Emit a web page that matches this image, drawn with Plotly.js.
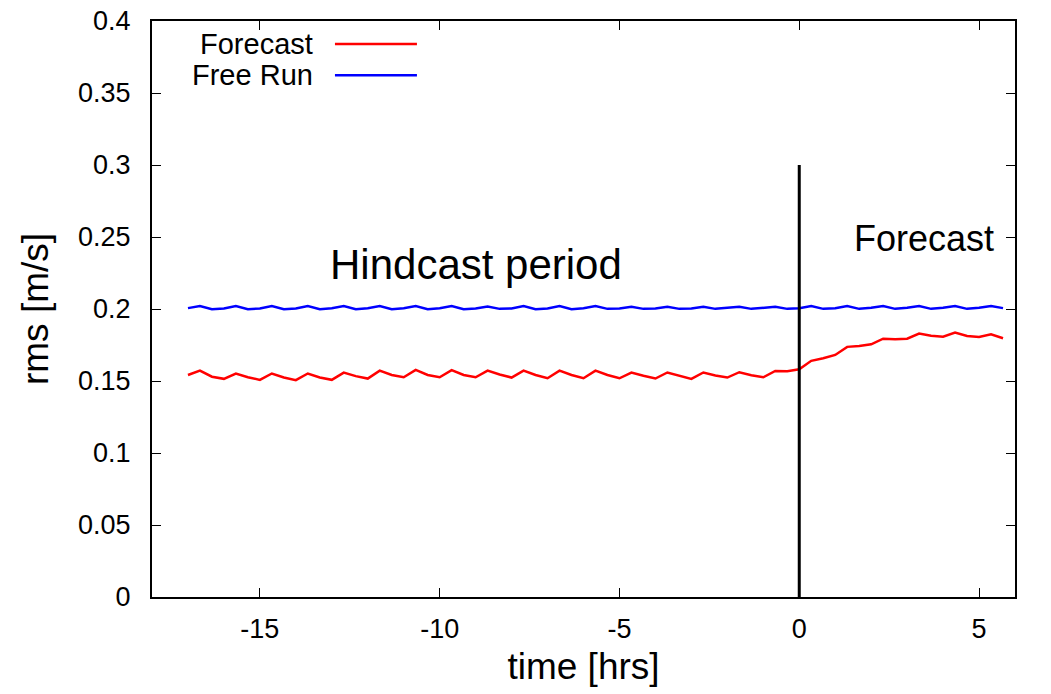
<!DOCTYPE html>
<html>
<head>
<meta charset="utf-8">
<script src="https://cdn.plot.ly/plotly-3.0.1.min.js"></script>
<style>html,body{margin:0;padding:0;background:#fff;}#chart{width:1051px;height:694px;}</style>
</head>
<body>
<div id="chart"></div>
<script>
// time [hrs], one value every 20 minutes
const timeHrs = [
  -17.000, -16.667, -16.333, -16.000, -15.667, -15.333, -15.000, -14.667, -14.333, -14.000,
  -13.667, -13.333, -13.000, -12.667, -12.333, -12.000, -11.667, -11.333, -11.000, -10.667,
  -10.333, -10.000, -9.667, -9.333, -9.000, -8.667, -8.333, -8.000, -7.667, -7.333,
  -7.000, -6.667, -6.333, -6.000, -5.667, -5.333, -5.000, -4.667, -4.333, -4.000,
  -3.667, -3.333, -3.000, -2.667, -2.333, -2.000, -1.667, -1.333, -1.000, -0.667,
  -0.333, 0.000, 0.333, 0.667, 1.000, 1.333, 1.667, 2.000, 2.333, 2.667,
  3.000, 3.333, 3.667, 4.000, 4.333, 4.667, 5.000, 5.333, 5.667
];
const forecastRms = [
  0.1542, 0.1572, 0.1530, 0.1515, 0.1552, 0.1526, 0.1508, 0.1552, 0.1524, 0.1506,
  0.1552, 0.1524, 0.1508, 0.1558, 0.1534, 0.1517, 0.1572, 0.1542, 0.1526, 0.1577,
  0.1542, 0.1526, 0.1575, 0.1542, 0.1526, 0.1572, 0.1545, 0.1524, 0.1572, 0.1542,
  0.1519, 0.1572, 0.1542, 0.1519, 0.1572, 0.1542, 0.1519, 0.1559, 0.1536, 0.1517,
  0.1559, 0.1535, 0.1515, 0.1559, 0.1538, 0.1524, 0.1561, 0.1540, 0.1526, 0.1570,
  0.1568, 0.1582, 0.1640, 0.1658, 0.1681, 0.1737, 0.1743, 0.1755, 0.1794, 0.1790,
  0.1794, 0.1829, 0.1815, 0.1808, 0.1836, 0.1813, 0.1806, 0.1824, 0.1797
];
const freeRunRms = [
  0.2006, 0.2020, 0.1999, 0.2004, 0.2020, 0.1999, 0.2004, 0.2021, 0.1999, 0.2004,
  0.2020, 0.1999, 0.2006, 0.2020, 0.1999, 0.2006, 0.2020, 0.1999, 0.2006, 0.2020,
  0.1999, 0.2006, 0.2021, 0.1999, 0.2004, 0.2018, 0.2001, 0.2004, 0.2020, 0.1999,
  0.2004, 0.2020, 0.1999, 0.2006, 0.2020, 0.2001, 0.2004, 0.2016, 0.2001, 0.2004,
  0.2016, 0.2001, 0.2004, 0.2016, 0.2001, 0.2006, 0.2016, 0.2001, 0.2006, 0.2016,
  0.2001, 0.2006, 0.2020, 0.2001, 0.2006, 0.2020, 0.2001, 0.2008, 0.2021, 0.2001,
  0.2008, 0.2021, 0.2001, 0.2008, 0.2021, 0.2001, 0.2008, 0.2021, 0.2006
];
// forecast start marker (time, rms extent)
const dividerTime = [0, 0];
const dividerRms = [0, 0.3];

const xTickVals = [-15, -10, -5, 0, 5];
const xTickText = ["-15", "-10", "-5", "0", "5"];
const yTickVals = [0, 0.05, 0.1, 0.15, 0.2, 0.25, 0.3, 0.35, 0.4];
const yTickText = ["0", "0.05", "0.1", "0.15", "0.2", "0.25", "0.3", "0.35", "0.4"];

const seriesNames = ["Forecast", "Free Run"];
const FONT = "Liberation Sans, Arial, Helvetica, sans-serif";

const traces = [
  {x: timeHrs, y: forecastRms, name: seriesNames[0], mode: "lines",
   line: {color: "#ff0000", width: 2.5}},
  {x: timeHrs, y: freeRunRms, name: seriesNames[1], mode: "lines",
   line: {color: "#0000ff", width: 2.5}},
  {x: dividerTime, y: dividerRms, mode: "lines", showlegend: false,
   line: {color: "#000000", width: 3}}
];

const layout = {
  width: 1051, height: 694,
  margin: {l: 152, r: 36, t: 21, b: 96.5},
  paper_bgcolor: "#fff", plot_bgcolor: "#fff",
  showlegend: false,
  font: {family: FONT, color: "#000", size: 27},
  xaxis: {
    range: [-18, 6], tickvals: xTickVals, ticktext: xTickText,
    showgrid: false, zeroline: false, showline: true, mirror: "ticks",
    linecolor: "#000", linewidth: 2, ticks: "inside", ticklen: 9, tickwidth: 1,
    tickcolor: "#000", tickfont: {size: 27}, ticklabelstandoff: 7,
    title: {text: "time [hrs]", font: {size: 37}, standoff: 10}
  },
  yaxis: {
    range: [0, 0.4], tickvals: yTickVals, ticktext: yTickText,
    showgrid: false, zeroline: false, showline: true, mirror: "ticks",
    linecolor: "#000", linewidth: 2, ticks: "inside", ticklen: 9, tickwidth: 1,
    tickcolor: "#000", tickfont: {size: 27}, ticklabelstandoff: 14,
    title: {text: "rms [m/s]", font: {size: 37}, standoff: 18}
  },
  annotations: [
    {x: -9, y: 0.231, xref: "x", yref: "y", text: "Hindcast period", showarrow: false,
     xanchor: "center", yanchor: "middle", font: {size: 42}},
    {x: 3.46, y: 0.249, xref: "x", yref: "y", text: "Forecast", showarrow: false,
     xanchor: "center", yanchor: "middle", font: {size: 36}},
    {x: 0.189, y: 0.960, xref: "paper", yref: "paper", text: seriesNames[0], showarrow: false,
     xanchor: "right", yanchor: "middle", font: {size: 29}},
    {x: 0.189, y: 0.906, xref: "paper", yref: "paper", text: seriesNames[1], showarrow: false,
     xanchor: "right", yanchor: "middle", font: {size: 29}}
  ],
  shapes: [
    {type: "line", xref: "paper", yref: "paper", x0: 0.212, x1: 0.307, y0: 0.960, y1: 0.960,
     line: {color: "#ff0000", width: 2.5}},
    {type: "line", xref: "paper", yref: "paper", x0: 0.212, x1: 0.307, y0: 0.906, y1: 0.906,
     line: {color: "#0000ff", width: 2.5}}
  ]
};

Plotly.newPlot("chart", traces, layout, {displayModeBar: false, staticPlot: true});
</script>
</body>
</html>
